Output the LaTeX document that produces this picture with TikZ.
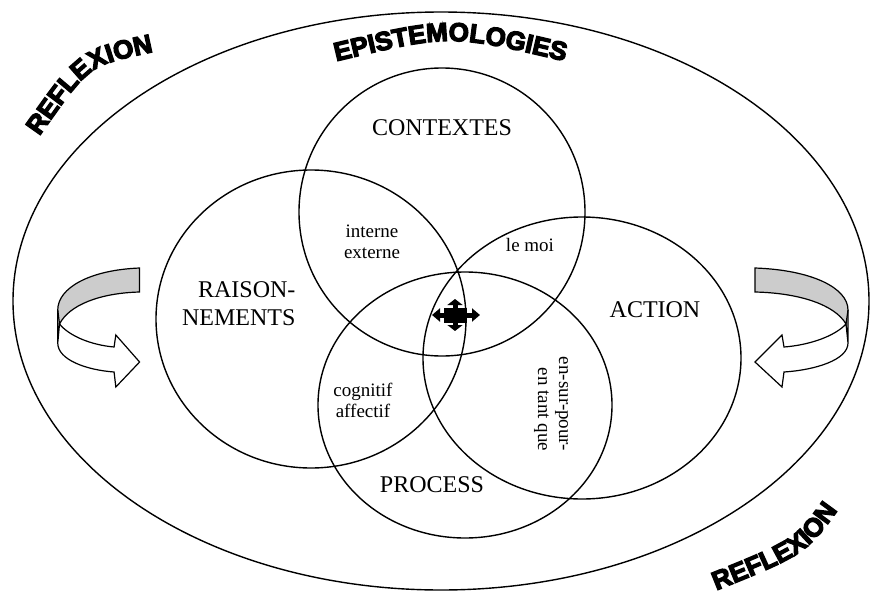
\documentclass[tikz,border=0pt]{standalone}
\usepackage{fontspec}
\setmainfont{Liberation Serif}
\newfontfamily\wordartfont{Liberation Sans Bold}[FakeBold=5, LetterSpace=5]
\newcommand{\gros}{\fontsize{24pt}{28pt}\selectfont}
\newcommand{\petit}{\fontsize{19pt}{21pt}\selectfont}
\newcommand{\titre}{\wordartfont\fontsize{26pt}{30pt}\selectfont}
\usetikzlibrary{arrows.meta,decorations.text}
\tikzset{
  cercle/.style={line width=1.4pt},
  grand/.style={font=\gros, align=center},
  lentille/.style={font=\petit, align=center},
  ruban/.style={fill=gray!40, draw, line width=1.2pt},
  courbe/.style={decorate, decoration={text along path, text align=center, text={|\titre|#1}}}
}

\begin{document}
\begin{tikzpicture}[x=1pt, y=-1pt]

    \useasboundingbox (0, 0) rectangle (871, 592);

    % grande ellipse
    \draw[cercle] (441, 301) ellipse [x radius=428pt, y radius=289pt];

    % les quatre cercles
    \draw[cercle] (442, 212) ellipse [x radius=143pt, y radius=144pt];
    \draw[cercle] (311, 319) ellipse [x radius=155pt, y radius=149pt];
    \draw[cercle] (582, 358) ellipse [x radius=159pt, y radius=141pt];
    \draw[cercle] (465, 405) ellipse [x radius=147pt, y radius=133pt];

    \node[grand] (ctx) at (442, 128) {CONTEXTES};
    \node[grand, align=right, anchor=east] (rai) at (299, 304) {RAISON-\\NEMENTS};
    \node[grand] (act) at (655, 310) {ACTION};
    \node[grand] (pro) at (432, 485) {PROCESS};

    \node[lentille] (ie) at (372, 242) {interne\\externe};
    \node[lentille] (moi) at (530, 245) {le moi};
    \node[lentille] (ca) at (363, 400) {cognitif\\affectif};
    \node[lentille, align=right, rotate=-90] (esp) at (551, 404) {en-sur-pour-\\en tant que};

    % croix au centre
    \coordinate (croix) at (455, 315);
    \fill (444, 308) rectangle (467, 323);
    \draw[line width=5pt, -{Triangle[width=15pt, length=6pt]}] (croix) -- ++(0, -16);
    \draw[line width=5pt, -{Triangle[width=15pt, length=6pt]}] (croix) -- ++(0, 16);
    \draw[line width=5pt, -{Triangle[width=13pt, length=8pt]}] (croix) -- ++(-23, 0);
    \draw[line width=5pt, -{Triangle[width=13pt, length=8pt]}] (croix) -- ++(25, 0);

    % fleches courbes
    \foreach \sx/\dx in {1/0, -0.88/804} {
      \begin{scope}[xshift=\dx pt, xscale=\sx]
        \fill[white] (755, 268) .. controls (812, 270) and (848, 288) .. (848, 310)
          -- (848, 343) .. controls (848, 360) and (815, 370) .. (784, 372)
          -- (782, 387) -- (755, 362) -- (782, 335) -- (784, 347)
          .. controls (810, 345) and (835, 336) .. (846, 324)
          .. controls (835, 305) and (800, 293) .. (755, 292) -- cycle;
        \draw[ruban] (755, 268) .. controls (812, 270) and (848, 288) .. (848, 310)
          -- (846, 324) .. controls (835, 305) and (800, 293) .. (755, 292) -- cycle;
        \draw[line width=1.2pt] (848, 310)
          -- (848, 343) .. controls (848, 360) and (815, 370) .. (784, 372)
          -- (782, 387) -- (755, 362) -- (782, 335) -- (784, 347)
          .. controls (810, 345) and (835, 336) .. (846, 324) -- (848, 343);
      \end{scope}
    }

    % textes courbes
    \path[courbe=REFLEXION] (29, 152) -- (43, 131) .. controls (89, 66) .. (148, 53) -- (172, 48);
    \path[courbe=EPISTEMOLOGIES] (304, 70) -- (333, 62) .. controls (450, 34) .. (568, 62) -- (597, 70);
    \path[courbe=REFLEXION] (691, 601) -- (710, 593) .. controls (807, 554) .. (845, 500) -- (854, 488);

\end{tikzpicture}
\end{document}
